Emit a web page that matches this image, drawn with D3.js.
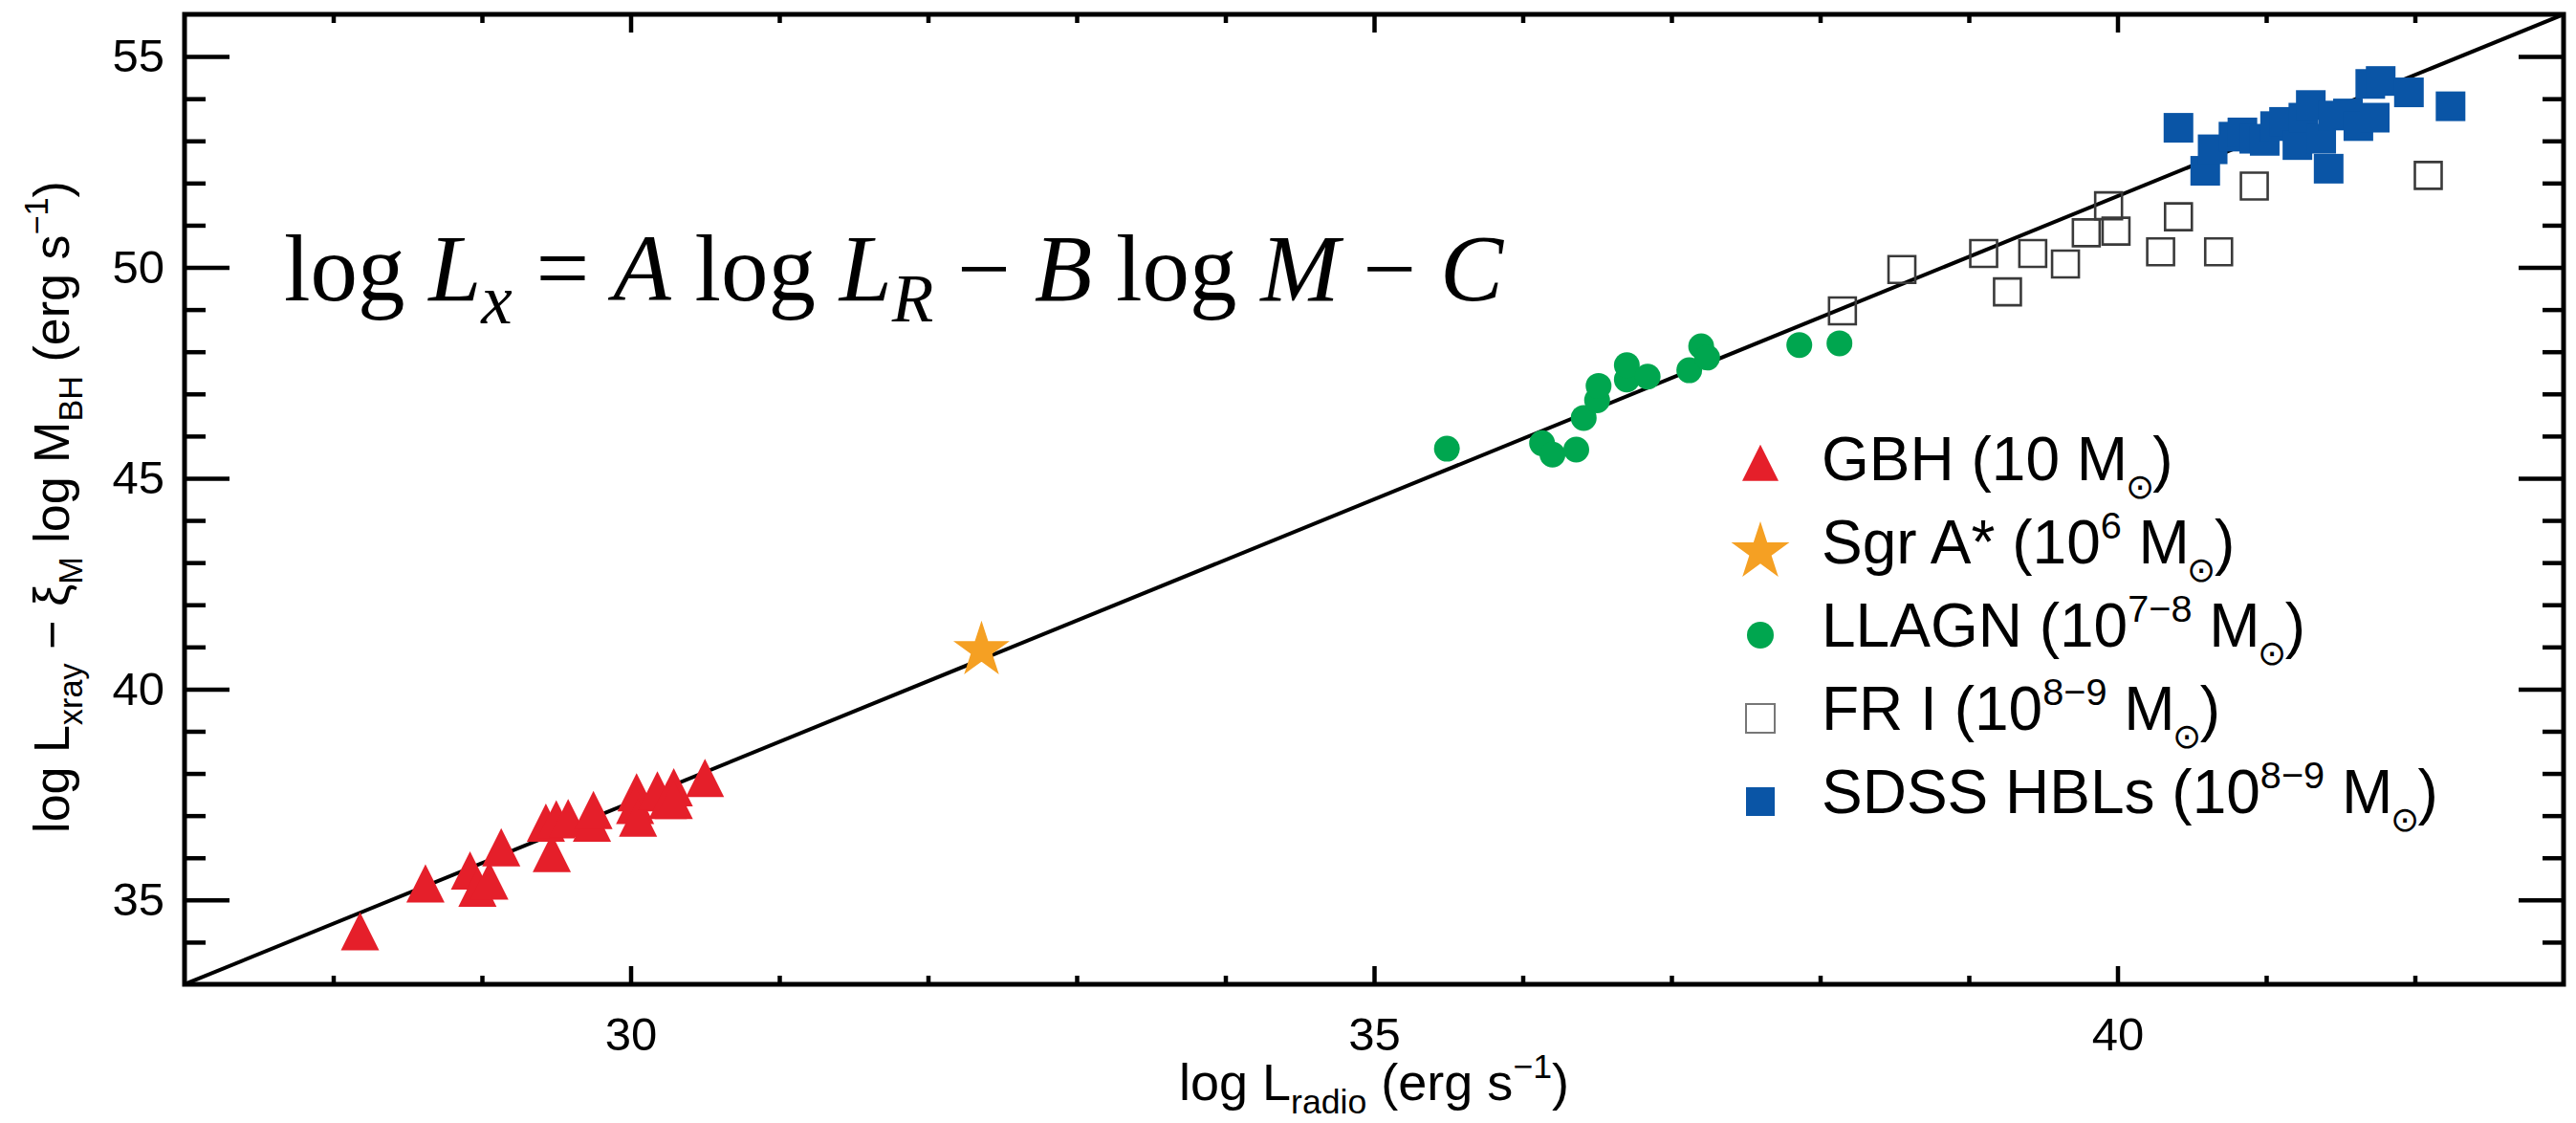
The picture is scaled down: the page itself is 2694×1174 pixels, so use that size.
<!DOCTYPE html>
<html>
<head>
<meta charset="utf-8">
<script src="https://cdn.jsdelivr.net/npm/d3@7"></script>
<style>
  body { margin: 0; background: #fff; }
  svg { display: block; }
</style>
</head>
<body>
<svg id="chart" width="2694" height="1174"></svg>
<script>
// Axis ranges and ticks (log erg/s)
const xDomain = [27, 43];
const yDomain = [33, 56];
const xMajorTicks = [30, 35, 40];
const xMinorTicks = [28, 29, 31, 32, 33, 34, 36, 37, 38, 39, 41, 42];
const yMajorTicks = [35, 40, 45, 50, 55];
const yMinorTicks = [34, 36, 37, 38, 39, 41, 42, 43, 44, 46, 47, 48, 49, 51, 52, 53, 54];

// Fundamental-plane fit: y = slope * x + intercept
const fitSlope = 1.4375;
const fitIntercept = -5.8125;

// Galactic black holes [log L_radio, log L_x - xi log M]
const gbh = [
  [28.18, 34.11], [28.62, 35.24], [28.92, 35.55], [28.97, 35.14], [29.05, 35.31],
  [29.13, 36.10], [29.43, 36.68], [29.47, 35.96], [29.50, 36.76], [29.58, 36.79],
  [29.74, 36.68], [29.75, 36.98], [30.04, 37.40], [30.03, 37.10], [30.05, 36.80],
  [30.18, 37.45], [30.25, 37.22], [30.29, 37.52], [30.29, 37.22], [30.50, 37.74]
];
// Sgr A*
const sgrA = [[32.36, 40.92]];
// Low-luminosity AGN
const llagn = [
  [35.49, 45.70], [36.13, 45.83], [36.20, 45.56], [36.36, 45.68], [36.41, 46.43],
  [36.50, 46.85], [36.51, 47.19], [36.70, 47.34], [36.70, 47.68], [36.84, 47.41],
  [37.12, 47.56], [37.20, 48.13], [37.24, 47.86], [37.86, 48.16], [38.13, 48.20]
];
// FR I radio galaxies
const fr1 = [
  [38.15, 48.97], [38.55, 49.95], [39.10, 50.33], [39.26, 49.42], [39.43, 50.33],
  [39.65, 50.08], [39.79, 50.82], [39.94, 51.46], [39.99, 50.86], [40.29, 50.37],
  [40.41, 51.20], [40.68, 50.37], [40.92, 51.93], [42.09, 52.18]
];
// SDSS high-energy-peaked BL Lacs
const hbl = [
  [40.41, 53.31], [40.59, 52.29], [40.64, 52.80], [40.78, 53.10], [40.84, 53.20],
  [40.92, 53.05], [40.99, 53.00], [41.06, 53.35], [41.12, 53.45], [41.21, 52.90],
  [41.25, 53.55], [41.30, 53.85], [41.37, 53.05], [41.42, 52.34], [41.45, 53.60],
  [41.55, 53.65], [41.62, 53.35], [41.73, 53.55], [41.70, 54.35], [41.77, 54.42],
  [41.96, 54.15], [42.24, 53.82]
];

// Legend entries: name, mass exponent (superscript, may be empty), marker key
const legendNames = ["GBH (10", "Sgr A* (10", "LLAGN (10", "FR I (10", "SDSS HBLs (10"];
const legendExponents = ["", "6", "7\u22128", "8\u22129", "8\u22129"];
const legendKeys = ["gbh", "sgr", "llagn", "fr1", "hbl"];

const colors = {
  gbh: "#e51f2a",
  sgr: "#f5a023",
  llagn: "#00a64f",
  fr1: "#3a3a3a",
  hbl: "#0a55a6"
};

const SANS = "'Liberation Sans', Arial, Helvetica, sans-serif";
const SERIF = "'Liberation Serif', 'Times New Roman', Times, serif";

const svg = d3.select("#chart");
const plotLeft = 193, plotRight = 2681, plotTop = 15, plotBottom = 1029;

const x = d3.scaleLinear().domain(xDomain).range([plotLeft, plotRight]);
const y = d3.scaleLinear().domain(yDomain).range([plotBottom, plotTop]);

svg.append("defs").append("clipPath").attr("id", "plotClip")
  .append("rect").attr("x", plotLeft).attr("y", plotTop)
  .attr("width", plotRight - plotLeft).attr("height", plotBottom - plotTop);

// Triangle with equal base and height, anchored at its centroid
const triangleType = {
  draw(ctx, size) {
    const s = Math.sqrt(size);
    ctx.moveTo(0, -2 * s / 3);
    ctx.lineTo(s / 2, s / 3);
    ctx.lineTo(-s / 2, s / 3);
    ctx.closePath();
  }
};
const symbolFor = {
  gbh: d3.symbol().type(triangleType).size(40 * 40),
  sgr: d3.symbol().type(d3.symbolStar).size(31 * 31 / 0.8908130915292852),
  llagn: d3.symbol().type(d3.symbolCircle).size(Math.PI * 13.5 * 13.5),
  fr1: d3.symbol().type(d3.symbolSquare).size(28 * 28),
  hbl: d3.symbol().type(d3.symbolSquare).size(31 * 31)
};
function styleMarker(sel, key) {
  if (key === "fr1") {
    sel.attr("fill", "none").attr("stroke", colors.fr1).attr("stroke-width", 2.6);
  } else {
    sel.attr("fill", colors[key]).attr("stroke", "none");
  }
}

// Fit line
const fitLine = d3.line().x(d => x(d)).y(d => y(fitSlope * d + fitIntercept));
svg.append("path")
  .attr("clip-path", "url(#plotClip)")
  .attr("d", fitLine(xDomain))
  .attr("fill", "none").attr("stroke", "#000").attr("stroke-width", 4);

// Data markers
const markers = svg.append("g").attr("clip-path", "url(#plotClip)");
[["fr1", fr1], ["gbh", gbh], ["sgr", sgrA], ["llagn", llagn], ["hbl", hbl]].forEach(([key, data]) => {
  markers.append("g").selectAll("path").data(data).join("path")
    .attr("transform", d => `translate(${x(d[0])},${y(d[1])})`)
    .attr("d", symbolFor[key]())
    .call(styleMarker, key);
});

// Axes (ticks point inward on all four sides)
function styleAxis(g) {
  g.select(".domain").remove();
  g.selectAll(".tick line").attr("stroke", "#000").attr("stroke-width", 4.5);
  g.selectAll(".tick text").attr("font-family", SANS).attr("font-size", 49).attr("fill", "#000");
}
svg.append("g").attr("transform", `translate(0,${plotBottom})`)
  .call(d3.axisBottom(x).tickValues(xMajorTicks).tickSize(-19).tickPadding(34).tickFormat(d3.format("d")))
  .call(styleAxis);
svg.append("g").attr("transform", `translate(0,${plotBottom})`)
  .call(d3.axisBottom(x).tickValues(xMinorTicks).tickSize(-9).tickFormat(""))
  .call(styleAxis);
svg.append("g").attr("transform", `translate(0,${plotTop})`)
  .call(d3.axisTop(x).tickValues(xMajorTicks).tickSize(-19).tickFormat(""))
  .call(styleAxis);
svg.append("g").attr("transform", `translate(0,${plotTop})`)
  .call(d3.axisTop(x).tickValues(xMinorTicks).tickSize(-9).tickFormat(""))
  .call(styleAxis);
svg.append("g").attr("transform", `translate(${plotLeft},0)`)
  .call(d3.axisLeft(y).tickValues(yMajorTicks).tickSize(-47).tickPadding(21).tickFormat(d3.format("d")))
  .call(styleAxis);
svg.append("g").attr("transform", `translate(${plotLeft},0)`)
  .call(d3.axisLeft(y).tickValues(yMinorTicks).tickSize(-22).tickFormat(""))
  .call(styleAxis);
svg.append("g").attr("transform", `translate(${plotRight},0)`)
  .call(d3.axisRight(y).tickValues(yMajorTicks).tickSize(-47).tickFormat(""))
  .call(styleAxis);
svg.append("g").attr("transform", `translate(${plotRight},0)`)
  .call(d3.axisRight(y).tickValues(yMinorTicks).tickSize(-22).tickFormat(""))
  .call(styleAxis);

// Frame
svg.append("rect")
  .attr("x", plotLeft).attr("y", plotTop)
  .attr("width", plotRight - plotLeft).attr("height", plotBottom - plotTop)
  .attr("fill", "none").attr("stroke", "#000").attr("stroke-width", 5);

// Rich text: parts are {t, scale, shift (em of base size, + is down), italic, dx (em)}
function rich(textSel, parts, base) {
  let cur = 0;
  parts.forEach(p => {
    const shift = (p.shift || 0) * base;
    const ts = textSel.append("tspan")
      .text(p.t)
      .attr("font-size", base * (p.scale || 1))
      .attr("dy", shift - cur);
    if (p.dx) ts.attr("dx", p.dx * base);
    if (p.italic) ts.attr("font-style", "italic");
    cur = shift;
  });
  return textSel;
}
const SUB = 0.26, SUP = -0.42, SMALL = 0.66;

// X axis title
rich(svg.append("text")
    .attr("x", x(35)).attr("y", 1150)
    .attr("text-anchor", "middle").attr("font-family", SANS),
  [
    { t: "log L" },
    { t: "radio", scale: SMALL, shift: SUB },
    { t: " (erg s" },
    { t: "\u22121", scale: SMALL, shift: SUP },
    { t: ")" }
  ], 54);

// Y axis title
rich(svg.append("text")
    .attr("transform", `translate(72,${(plotTop + plotBottom) / 2 + 8}) rotate(-90)`)
    .attr("text-anchor", "middle").attr("font-family", SANS),
  [
    { t: "log L" },
    { t: "xray", scale: SMALL, shift: SUB },
    { t: " \u2212 \u03be" },
    { t: "M", scale: SMALL, shift: SUB },
    { t: " log M" },
    { t: "BH", scale: SMALL, shift: SUB },
    { t: " (erg s" },
    { t: "\u22121", scale: SMALL, shift: SUP },
    { t: ")" }
  ], 52);

// Fit relation
rich(svg.append("text")
    .attr("x", 297).attr("y", 314)
    .attr("font-family", SERIF).attr("xml:space", "preserve"),
  [
    { t: "log " },
    { t: "L", italic: true },
    { t: "x", italic: true, scale: 0.74, shift: 0.24 },
    { t: " = " },
    { t: "A", italic: true },
    { t: " log " },
    { t: "L", italic: true },
    { t: "R", italic: true, scale: 0.72, shift: 0.22 },
    { t: " \u2212 " },
    { t: "B", italic: true },
    { t: " log " },
    { t: "M", italic: true },
    { t: " \u2212 " },
    { t: "C", italic: true }
  ], 99);

// Legend
const legendX = 1841, legendTextX = 1905, legendBase0 = 502, legendStep = 87, legendSize = 64;
legendKeys.forEach((key, i) => {
  const base = legendBase0 + i * legendStep;
  const row = svg.append("g");
  const marker = row.append("path")
    .attr("transform", `translate(${legendX},${base - 12})`)
    .attr("d", key === "sgr"
      ? d3.symbol().type(d3.symbolStar).size(32 * 32 / 0.8908130915292852)()
      : key === "gbh" ? d3.symbol().type(triangleType).size(38 * 38)()
      : key === "llagn" ? d3.symbol().type(d3.symbolCircle).size(Math.PI * 14 * 14)()
      : d3.symbol().type(d3.symbolSquare).size(30 * 30)())
    .call(styleMarker, key);
  if (key === "fr1") marker.attr("stroke", "#777").attr("stroke-width", 2);
  const parts = [{ t: legendNames[i] }];
  if (legendExponents[i]) parts.push({ t: legendExponents[i], scale: 0.62, shift: -0.4 });
  parts.push({ t: " M", shift: 0 });
  parts.push({ t: "\u2299", scale: 0.56, shift: 0.3, dx: -0.04 });
  parts.push({ t: ")", shift: 0, dx: -0.02 });
  rich(row.append("text")
      .attr("x", legendTextX).attr("y", base)
      .attr("font-family", SANS).attr("xml:space", "preserve"),
    parts, legendSize);
});
</script>
</body>
</html>
